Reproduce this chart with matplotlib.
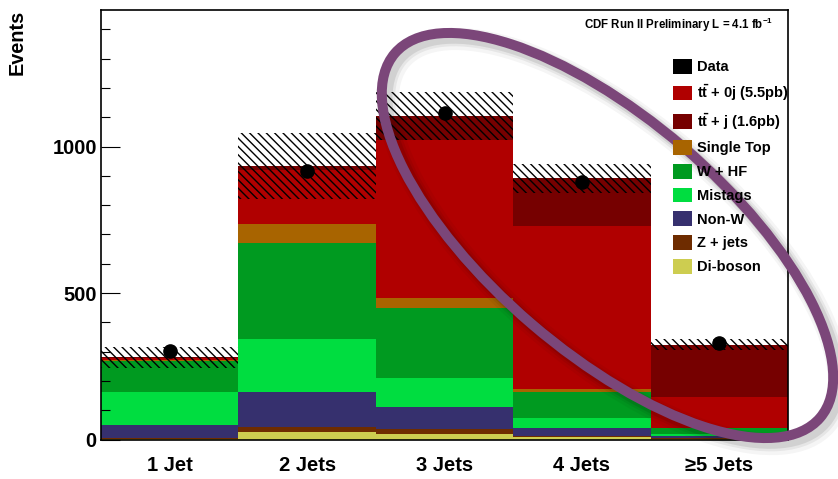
import matplotlib
matplotlib.use("Agg")
import matplotlib.pyplot as plt
import numpy as np
from matplotlib.patches import Ellipse, Patch
from matplotlib.ticker import MultipleLocator

plt.rcParams["font.family"] = ["Liberation Sans", "DejaVu Sans"]
plt.rcParams["font.weight"] = "bold"
plt.rcParams["mathtext.fontset"] = "custom"
plt.rcParams["mathtext.rm"] = "Liberation Sans:bold"
plt.rcParams["mathtext.bf"] = "Liberation Sans:bold"
plt.rcParams["hatch.linewidth"] = 1.0

# jet multiplicity bins
bins = ["1 Jet", "2 Jets", "3 Jets", "4 Jets", "\u22655 Jets"]

# stacked expectations per bin, bottom to top
diboson = [3, 27, 19, 7, 3]
zjets = [2, 15, 17, 5, 3]
non_w = [45, 119, 74, 28, 6]
mistags = [111, 181, 101, 32, 7]
w_hf = [108, 328, 237, 91, 19]
single_top = [2, 65, 34, 8, 2]
ttbar_0j = [7, 185, 540, 559, 106]
ttbar_j = [2, 13, 82, 161, 178]

# uncertainty on the total expectation
total_err = [35, 112, 83, 50, 18]

# observed events
data = [302, 918, 1113, 880, 328]

components = {
    "Di-boson": (diboson, "#cdcd50"),
    "Z + jets": (zjets, "#6e2c00"),
    "Non-W": (non_w, "#36306e"),
    "Mistags": (mistags, "#00dd40"),
    "W + HF": (w_hf, "#009a20"),
    "Single Top": (single_top, "#a86400"),
    r"$\mathrm{t\bar{t}}$ + 0j (5.5pb)": (ttbar_0j, "#b00000"),
    r"$\mathrm{t\bar{t}}$ + j (1.6pb)": (ttbar_j, "#760000"),
}
legend_order = [
    r"$\mathrm{t\bar{t}}$ + 0j (5.5pb)", r"$\mathrm{t\bar{t}}$ + j (1.6pb)",
    "Single Top", "W + HF", "Mistags", "Non-W", "Z + jets", "Di-boson",
]

fig = plt.figure(figsize=(8.38, 4.79), dpi=100)
ax = fig.add_axes([101 / 838, 39.5 / 479, 687 / 838, 429.5 / 479])

x = np.arange(len(bins))
bottom = np.zeros(len(bins))
for label, (values, color) in components.items():
    ax.bar(x, values, bottom=bottom, width=1.0, color=color, linewidth=0)
    bottom += np.array(values)

err = np.array(total_err)
ax.bar(x, 2 * err, bottom=bottom - err, width=1.0, fill=False,
       hatch="\\\\\\\\", edgecolor="black", linewidth=0)

ax.plot(x, data, "o", color="black", markersize=9.5, zorder=5)

ax.set_xlim(-0.5, len(bins) - 0.5)
ax.set_ylim(0, 1466)
ax.set_xticks(x)
ax.set_xticklabels(bins, fontsize=14.5, fontweight="bold")
ax.tick_params(axis="x", length=0, pad=12)
ax.yaxis.set_major_locator(MultipleLocator(500))
ax.yaxis.set_minor_locator(MultipleLocator(100))
ax.tick_params(axis="y", which="major", direction="in", length=13.5, width=0.8,
               labelsize=14.5, pad=3)
ax.tick_params(axis="y", which="minor", direction="in", length=6.5, width=0.8)
for lbl in ax.get_yticklabels():
    lbl.set_fontweight("bold")
for side in ax.spines.values():
    side.set_linewidth(1.2)

fig.text(17 / 838, 1 - 10 / 479, "Events", rotation=90, ha="center", va="top",
         fontsize=14.3, fontweight="bold")
fig.text(773 / 838, 1 - 25 / 479, r"CDF Run II Preliminary L = 4.1 fb$^{-1}$",
         ha="right", va="center", fontsize=8.3, fontweight="bold")

handles = [Patch(facecolor="black", label="Data")]
for label in legend_order:
    handles.append(Patch(facecolor=components[label][1], label=label))
fig.legend(handles=handles, loc="upper left",
           bbox_to_anchor=(673 / 838, 1 - 59 / 479), frameon=False,
           handlelength=1.32, handleheight=1.18, handletextpad=0.3,
           labelspacing=0.58, borderpad=0, borderaxespad=0,
           prop={"weight": "bold", "size": 10.5})

# highlighted region: soft shadow first, then the ring
ring = dict(width=5.6, height=2.33, angle=-40.6, fill=False)
for off, lw, a in [(0.06, 16, 0.04), (0.05, 12, 0.06), (0.045, 9, 0.09)]:
    fig.add_artist(Ellipse((6.075 + off, 2.435 - off), edgecolor="black",
                           linewidth=lw, alpha=a, transform=fig.dpi_scale_trans,
                           **ring))
fig.add_artist(Ellipse((6.075, 2.435), edgecolor="#7b4679", linewidth=7.2,
                       transform=fig.dpi_scale_trans, **ring))

fig.savefig("out.png", dpi=100)
